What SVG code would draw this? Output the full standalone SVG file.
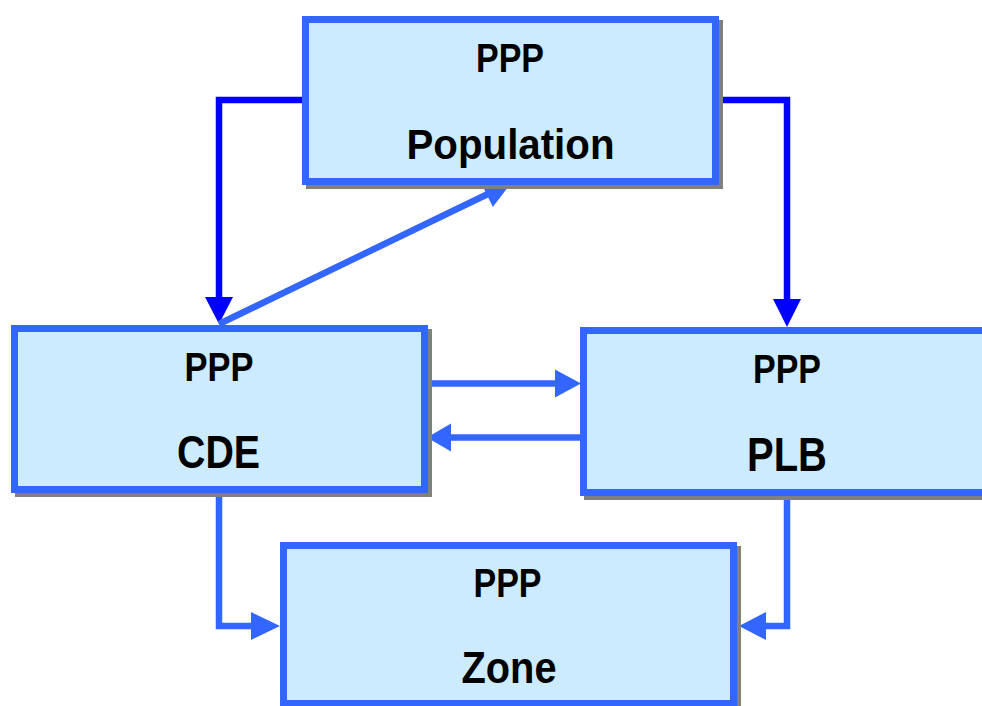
<svg xmlns="http://www.w3.org/2000/svg" width="982" height="706" viewBox="0 0 982 706">
<style>
.shadow{fill:#808080;}
.box{fill:#CCEBFF;stroke:#3366FF;stroke-width:7;}
.t{font-family:"Liberation Sans Narrow","Liberation Sans",Arial,sans-serif;font-weight:bold;fill:#000;text-anchor:middle;}
.c1{fill:none;stroke:#3366FF;stroke-width:6.5;}
.c2{fill:none;stroke:#0000FF;stroke-width:6.5;}
.h1{fill:#3366FF;}
.h2{fill:#0000FF;}
</style>
<g id="connectors">
  <!-- dark blue -->
  <polyline class="c2" points="305,100 219,100 219,298"/>
  <polygon class="h2" points="205,297 233,297 219,324"/>
  <polyline class="c2" points="716,100 787,100 787,300"/>
  <polygon class="h2" points="773,299 801,299 787,327"/>
  <!-- light blue -->
  <line class="c1" x1="219" y1="324" x2="492" y2="192"/>
  <polygon class="h1" points="512,182 492.8,207 480.5,181.5"/>
  <line class="c1" x1="428" y1="383.5" x2="557" y2="383.5"/>
  <polygon class="h1" points="555,369.5 555,397.5 581,383.5"/>
  <line class="c1" x1="581" y1="437.5" x2="450" y2="437.5"/>
  <polygon class="h1" points="451,423.5 451,451.5 427,437.5"/>
  <polyline class="c1" points="219,494 219,626 253,626"/>
  <polygon class="h1" points="251,612 251,640 280,626"/>
  <polyline class="c1" points="787,496 787,626 764,626"/>
  <polygon class="h1" points="766,612 766,640 739,626"/>
</g>
<g id="population">
  <rect class="shadow" x="306" y="20" width="417" height="169"/>
  <rect class="box" x="305.5" y="19.5" width="410" height="162"/>
  <text class="t" x="510" y="72" font-size="40" textLength="68" lengthAdjust="spacingAndGlyphs">PPP</text>
  <text class="t" x="510.5" y="159" font-size="42" textLength="208" lengthAdjust="spacingAndGlyphs">Population</text>
</g>
<g id="cde">
  <rect class="shadow" x="15" y="329" width="417" height="168"/>
  <rect class="box" x="14.5" y="328.5" width="410" height="161"/>
  <text class="t" x="219" y="381" font-size="40" textLength="69" lengthAdjust="spacingAndGlyphs">PPP</text>
  <text class="t" x="218.5" y="468" font-size="46" textLength="83" lengthAdjust="spacingAndGlyphs">CDE</text>
</g>
<g id="plb">
  <rect class="shadow" x="584" y="331" width="410" height="169"/>
  <rect class="box" x="583.5" y="330.5" width="410" height="162"/>
  <text class="t" x="787" y="383" font-size="40" textLength="68" lengthAdjust="spacingAndGlyphs">PPP</text>
  <text class="t" x="787" y="471" font-size="48" textLength="80" lengthAdjust="spacingAndGlyphs">PLB</text>
</g>
<g id="zone">
  <rect class="shadow" x="284" y="546" width="457" height="165"/>
  <rect class="box" x="283.5" y="545.5" width="450" height="158"/>
  <text class="t" x="507.5" y="597" font-size="40" textLength="68" lengthAdjust="spacingAndGlyphs">PPP</text>
  <text class="t" x="509" y="683" font-size="44" textLength="95" lengthAdjust="spacingAndGlyphs">Zone</text>
</g>
</svg>
